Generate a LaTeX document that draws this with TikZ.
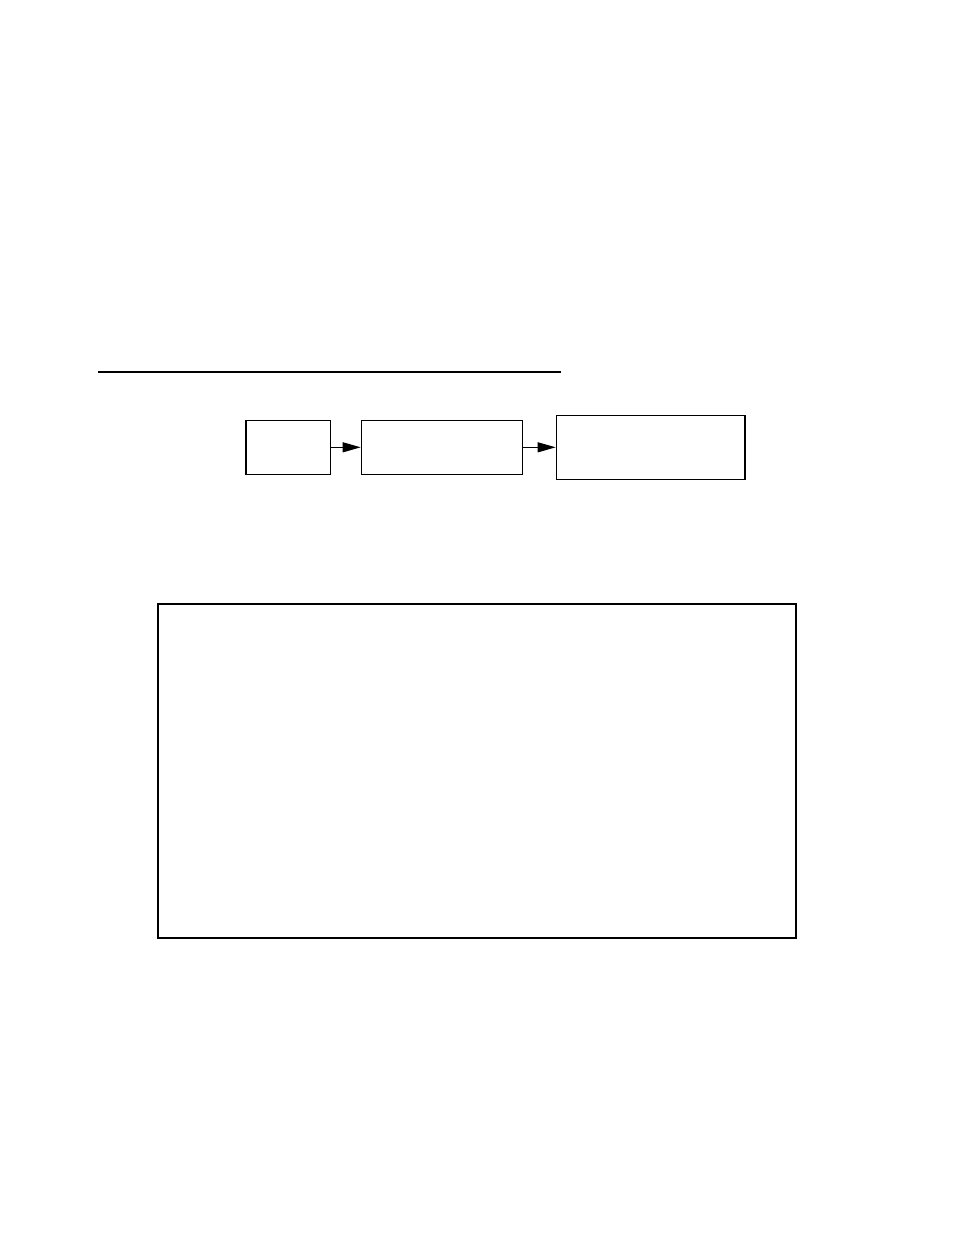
\documentclass[tikz,border=0pt]{standalone}
\usetikzlibrary{arrows.meta}
\begin{document}
\begin{tikzpicture}[x=1pt,y=-1pt,
  smallbox/.style={draw,line width=1.2pt,inner sep=0pt,minimum height=54pt},
  bigframe/.style={draw,line width=2pt,inner sep=0pt},
  flow/.style={line width=1pt,-{Triangle[length=18pt,width=10pt]}}]
\useasboundingbox (0,0) rectangle (954,1235);
\fill[white] (0,0) rectangle (954,1235);
\coordinate (ruleL) at (98,371.7);
\coordinate (ruleR) at (560.7,371.7);
\draw[line width=2pt] (ruleL) -- (ruleR);
\node[smallbox,minimum width=84.7pt] (b1) at (288.35,447.3) {};
\node[smallbox,minimum width=161pt] (b2) at (441.8,447.3) {};
\node[smallbox,minimum width=188.7pt,minimum height=63.7pt] (b3) at (650.65,447.3) {};
\draw[flow] (b1.east) -- (b2.west);
\draw[flow] (b2.east) -- (b3.west);
\node[bigframe,minimum width=638pt,minimum height=334pt] (frame) at (476.85,771.3) {};
\end{tikzpicture}
\end{document}
